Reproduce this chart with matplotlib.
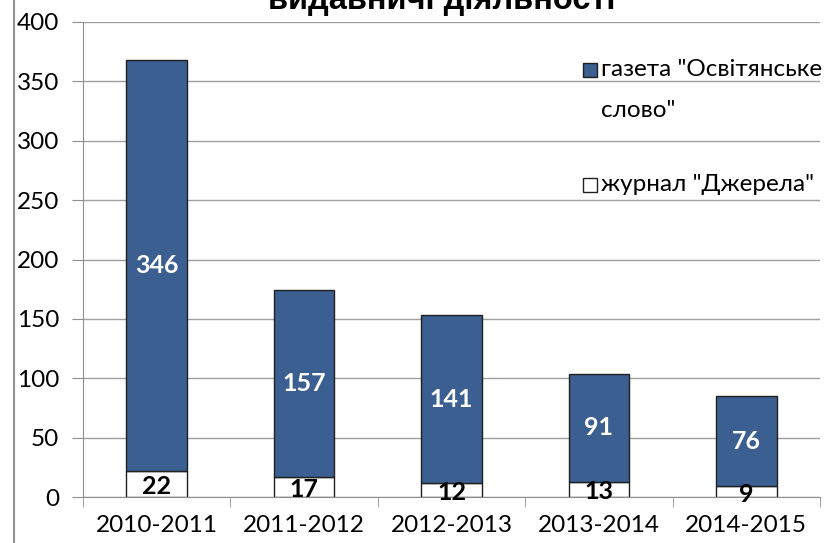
import matplotlib.pyplot as plt
import matplotlib.lines as mlines
import matplotlib.patches as mpatches
import numpy as np

years = ["2010-2011", "2011-2012", "2012-2013", "2013-2014", "2014-2015"]
dzherela = [22, 17, 12, 13, 9]
gazeta = [346, 157, 141, 91, 76]
labels = ['газета "Освітянське\nслово"', 'журнал "Джерела"']

blue = "#3B5F90"
plt.rcParams["font.family"] = ["Lato", "DejaVu Sans"]

W, H = 825, 543
fig = plt.figure(figsize=(W / 100, H / 100), dpi=100)
ax = fig.add_axes([83 / W, 46 / H, 737 / W, 475 / H])

x = np.arange(len(years))
w = 0.41
ax.bar(x, dzherela, w, color="white", edgecolor="#202020", linewidth=1)
ax.bar(x, gazeta, w, bottom=dzherela, color=blue, edgecolor="#202020", linewidth=1)

for xi, v in zip(x, dzherela):
    ax.text(xi, v / 2 - 2, str(v), ha="center", va="center", fontsize=18, fontweight="bold", color="black")
for xi, b, v in zip(x, dzherela, gazeta):
    ax.text(xi, b + v / 2, str(v), ha="center", va="center", fontsize=18, fontweight="bold", color="white")

ax.set_xlim(-0.5, len(years) - 0.5)
ax.set_ylim(0, 400)
ax.set_yticks(range(0, 401, 50))
ax.set_xticks(x)
ax.set_xticklabels(years)
ax.set_xticks(np.arange(-0.5, len(years)), minor=True)
ax.tick_params(axis="x", which="major", length=0, labelsize=17.5, pad=13)
ax.tick_params(axis="x", which="minor", length=7, color="#909090")
ax.tick_params(axis="y", length=8, color="#909090", labelsize=17.5, pad=9)
ax.grid(axis="y", color="#A0A0A0", linewidth=1)
ax.set_axisbelow(True)
for s in ["top", "right"]:
    ax.spines[s].set_visible(False)
for s in ["left", "bottom"]:
    ax.spines[s].set_color("#909090")

# legend, drawn by hand so the swatch sits on the first line of the wrapped label
for (px, py), fc, lab in zip([(583, 70), (583, 185)], [blue, "white"], labels):
    fig.add_artist(mpatches.Rectangle((px / W, 1 - (py + 7) / H), 14 / W, 14 / H,
                                      facecolor=fc, edgecolor="#202020", linewidth=1,
                                      transform=fig.transFigure))
    fig.text((px + 18) / W, 1 - (py - 11) / H, lab, ha="left", va="top", fontsize=17.5,
             linespacing=2.2)

fig.text(442 / W, 1.0, "видавничі діяльності", ha="center", va="center", fontsize=23.5,
         fontweight="bold", family=["Liberation Sans", "DejaVu Sans"])
fig.add_artist(mlines.Line2D([14 / W, 14 / W], [0, 1], color="#909090", linewidth=1.5))

fig.savefig("out.png", dpi=100)
